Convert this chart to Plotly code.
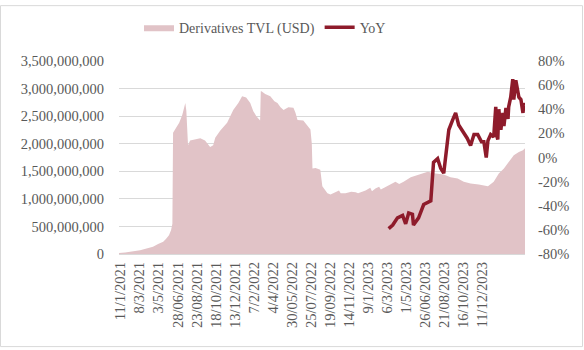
import datetime as dt
import plotly.graph_objects as go

# ---------------- data ----------------
tvl_dates = [
    "2021-01-06", "2021-01-24", "2021-03-09", "2021-04-01", "2021-04-16", "2021-05-01",
    "2021-05-16", "2021-05-24", "2021-06-02", "2021-06-08", "2021-06-12", "2021-06-14",
    "2021-06-23", "2021-07-02", "2021-07-11", "2021-07-20", "2021-07-23", "2021-07-28",
    "2021-08-03", "2021-08-18", "2021-09-02", "2021-09-16", "2021-10-01", "2021-10-10",
    "2021-10-16", "2021-10-31", "2021-11-20", "2021-12-08", "2021-12-23", "2022-01-03",
    "2022-01-15", "2022-01-27", "2022-02-05", "2022-02-14", "2022-02-25", "2022-02-27",
    "2022-03-01", "2022-03-12", "2022-03-27", "2022-04-08", "2022-04-17", "2022-04-26",
    "2022-05-05", "2022-05-19", "2022-06-03", "2022-06-09", "2022-06-15", "2022-07-02",
    "2022-07-11", "2022-07-23", "2022-07-27", "2022-07-29", "2022-08-07", "2022-08-21",
    "2022-08-27", "2022-09-11", "2022-09-20", "2022-10-05", "2022-10-15", "2022-10-20",
    "2022-11-03", "2022-11-20", "2022-12-03", "2022-12-10", "2023-01-01", "2023-01-15",
    "2023-01-20", "2023-01-30", "2023-02-10", "2023-02-15", "2023-03-07", "2023-03-30",
    "2023-04-10", "2023-04-23", "2023-05-14", "2023-06-06", "2023-07-03", "2023-07-26",
    "2023-08-19", "2023-09-08", "2023-09-29", "2023-10-17", "2023-11-06", "2023-11-30",
    "2023-12-27", "2024-01-13", "2024-01-28", "2024-02-12", "2024-02-26", "2024-03-12",
    "2024-03-27", "2024-04-08", "2024-04-14",
]
tvl_values_bn = [
    0.018, 0.027, 0.07, 0.107, 0.133, 0.18,
    0.22, 0.27, 0.34, 0.43, 0.55, 2.2,
    2.29, 2.38, 2.52, 2.74, 2.6, 1.97,
    2.06, 2.08, 2.1, 2.06, 1.94, 1.97,
    2.11, 2.24, 2.38, 2.61, 2.74, 2.86,
    2.84, 2.74, 2.59, 2.5, 2.42, 2.95,
    2.95, 2.9, 2.86, 2.77, 2.74, 2.66,
    2.61, 2.66, 2.65, 2.56, 2.43, 2.42,
    2.35, 2.26, 2.0, 1.55, 1.56, 1.53,
    1.23, 1.1, 1.08, 1.12, 1.15, 1.1,
    1.1, 1.13, 1.12, 1.1, 1.15, 1.2,
    1.14, 1.19, 1.22, 1.17, 1.23, 1.31,
    1.27, 1.31, 1.39, 1.44, 1.49, 1.46,
    1.44, 1.39, 1.37, 1.31, 1.28, 1.26,
    1.23, 1.31, 1.46, 1.55, 1.67, 1.79,
    1.85, 1.88, 1.92,
]

yoy_dates = [
    "2023-03-10", "2023-03-22", "2023-04-05", "2023-04-20", "2023-04-29", "2023-05-08",
    "2023-05-19", "2023-05-22", "2023-06-06", "2023-06-21", "2023-07-12", "2023-07-15",
    "2023-07-20", "2023-08-01", "2023-08-10", "2023-08-19", "2023-08-28", "2023-09-03",
    "2023-09-14", "2023-09-23", "2023-10-02", "2023-10-17", "2023-10-27", "2023-11-06",
    "2023-11-16", "2023-11-27", "2023-12-08", "2023-12-15", "2023-12-19", "2023-12-22",
    "2023-12-27", "2024-01-04", "2024-01-13", "2024-01-16", "2024-01-19", "2024-01-22",
    "2024-01-25", "2024-01-28", "2024-02-03", "2024-02-09", "2024-02-12", "2024-02-18",
    "2024-02-24", "2024-02-26", "2024-03-03", "2024-03-09", "2024-03-12", "2024-03-18",
    "2024-03-24", "2024-03-27", "2024-04-02", "2024-04-08", "2024-04-11", "2024-04-14",
]
yoy_pct = [
    -59, -56, -50, -48, -55, -46,
    -47, -56, -50, -39, -36, -24,
    -4, -1, -9, -13, 9, 23,
    31, 37, 27, 21, 16, 10,
    19, 19, 13, 13, 2, 0,
    14, 19, 17, 26, 42, 18,
    15, 40, 23, 37, 26, 41,
    32, 42, 50, 65, 48, 64,
    53, 50, 48, 37, 45, 43,
]

x_tick_labels = [
    "11/1/2021", "8/3/2021", "3/5/2021", "28/06/2021", "23/08/2021", "18/10/2021",
    "13/12/2021", "7/2/2022", "4/4/2022", "30/05/2022", "25/07/2022", "19/09/2022",
    "14/11/2022", "9/1/2023", "6/3/2023", "1/5/2023", "26/06/2023", "21/08/2023",
    "16/10/2023", "11/12/2023",
]
left_ticks = [0, 500e6, 1000e6, 1500e6, 2000e6, 2500e6, 3000e6, 3500e6]
right_ticks = [-80, -60, -40, -20, 0, 20, 40, 60, 80]

# ---------------- build ----------------
tick_dates = [dt.datetime.strptime(s, "%d/%m/%Y").strftime("%Y-%m-%d") for s in x_tick_labels]
tvl_usd = [v * 1e9 for v in tvl_values_bn]

FONT = "Liberation Serif"
GREY = "#595959"
GRID = "#D9D9D9"
AREA = "#E1C3C7"
LINE = "#8E1B2B"

fig = go.Figure()
fig.add_trace(go.Scatter(
    x=tvl_dates, y=tvl_usd, name="Derivatives TVL (USD)",
    mode="lines", line=dict(width=0, color=AREA), fill="tozeroy", fillcolor=AREA,
    yaxis="y", hoverinfo="skip",
))
fig.add_trace(go.Scatter(
    x=yoy_dates, y=yoy_pct, name="YoY",
    mode="lines", line=dict(width=3.5, color=LINE), yaxis="y2",
))

W, H = 584, 350
L, R, T, B = 119, 59, 57, 96
pw, ph = W - L - R, H - T - B

fig.update_layout(
    width=W, height=H,
    margin=dict(l=L, r=R, t=T, b=B, pad=0),
    paper_bgcolor="white", plot_bgcolor="white",
    font=dict(family=FONT, size=14.5, color=GREY),
    showlegend=True,
    legend=dict(
        orientation="h", x=(265 - L) / pw, xanchor="center",
        y=1 + (T - 23) / ph, yanchor="middle",
        font=dict(family=FONT, size=14, color=GREY),
        bgcolor="rgba(0,0,0,0)",
    ),
    xaxis=dict(
        type="date", range=["2021-01-06", "2024-04-14"],
        tickmode="array", tickvals=tick_dates, ticktext=x_tick_labels,
        tickangle=-90, showgrid=False, zeroline=False, showline=False,
        ticks="", ticklabelstandoff=4,
    ),
    yaxis=dict(
        range=[0, 3.5e9], tickmode="array", tickvals=left_ticks,
        ticktext=[f"{v:,.0f}" for v in left_ticks],
        showgrid=True, gridcolor=GRID, gridwidth=1,
        zeroline=True, zerolinecolor=GRID, zerolinewidth=1,
        showline=False, ticks="", ticklabelstandoff=14,
    ),
    yaxis2=dict(
        range=[-80, 80], overlaying="y", side="right",
        tickmode="array", tickvals=right_ticks,
        ticktext=[f"{v}%" for v in right_ticks],
        showgrid=False, zeroline=False, showline=False, ticks="",
        ticklabelstandoff=12,
    ),
    shapes=[dict(
        type="rect", xref="paper", yref="paper",
        x0=-(L - 0.5) / pw, x1=1 + (R - 1.5) / pw,
        y0=-(B - 1.5) / ph, y1=1 + (T - 0.5) / ph,
        line=dict(color=GRID, width=1), layer="below",
    )],
)

fig.write_html("out.html")
